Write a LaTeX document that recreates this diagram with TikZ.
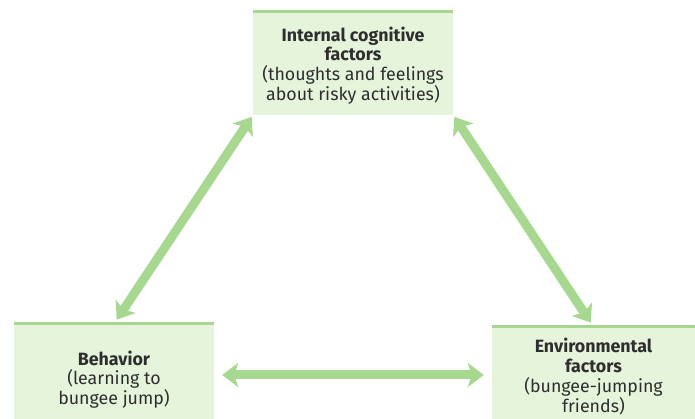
\documentclass[tikz,border=0pt]{standalone}
\usepackage{fontspec}
\setmainfont{Fira Sans}
\usetikzlibrary{arrows.meta,calc}

\begin{document}
\begin{tikzpicture}[x=1pt,y=1pt,
    box/.style={fill=boxfill,minimum width=200pt,align=center,
      text=textgrey,font=\fontsize{17.8}{19.8}\selectfont,inner sep=0pt},
    bar/.style={draw=barline,line width=3pt},
    link/.style={draw=arrowgreen,line width=9pt,
      {Stealth[length=16pt,width=24pt,inset=4pt]}-{Stealth[length=16pt,width=24pt,inset=4pt]}}]
  \definecolor{boxfill}{HTML}{E6F4DB}
  \definecolor{barline}{HTML}{A8D58F}
  \definecolor{arrowgreen}{HTML}{A6D88F}
  \definecolor{textgrey}{HTML}{2E2E2E}

  % fix the visible area
  \useasboundingbox (0,0) rectangle (695,419);
  \clip (0,0) rectangle (695,419);

  % the three boxes
  \node [box,minimum height=103pt] (cog) at (353,355.5) {};
  \node [box,minimum height=110pt] (beh) at (114,40) {};
  \node [box,minimum width=203pt,minimum height=112pt] (env) at (593.5,36) {};

  % their texts
  \node [box,fill=none] (cogtxt) at (353,353.5)
    {\textbf{Internal cognitive}\\\textbf{factors}\\
     (thoughts and feelings\\about risky activities)};
  \node [box,fill=none] (behtxt) at (114,39.5)
    {\textbf{Behavior}\\(learning to\\bungee jump)};
  \node [box,fill=none] (envtxt) at (593.5,42.5)
    {\textbf{Environmental}\\\textbf{factors}\\(bungee-jumping\\friends)};

  % green bars on top of the boxes
  \foreach \b in {cog,beh,env}
    \draw [bar] (\b.north west) -- (\b.north east);

  % the arrows between them
  \coordinate (bh) at ($ (beh.east) + (0,4) $);
  \coordinate (eh) at ($ (env.west) + (0,8) $);
  \draw [link,shorten <=5pt,shorten >=2pt] (beh.north) -- (cog.south west);
  \draw [link,shorten <=2pt,shorten >=5pt] (cog.south east) -- (env.north);
  \draw [link,shorten <=8pt,shorten >=8pt] (bh) -- (eh);
\end{tikzpicture}
\end{document}
